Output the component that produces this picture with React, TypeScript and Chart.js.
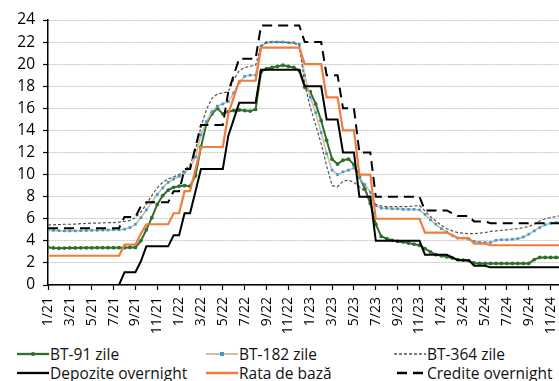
import React, { useEffect, useRef } from 'react';
import { Chart, registerables } from 'chart.js';

Chart.register(...registerables);

// Semi-monthly observations, Jan 2021 .. Dec 2024 (two per month)
const tickLabels = [
  '1/21', '3/21', '5/21', '7/21', '9/21', '11/21',
  '1/22', '3/22', '5/22', '7/22', '9/22', '11/22',
  '1/23', '3/23', '5/23', '7/23', '9/23', '11/23',
  '1/24', '3/24', '5/24', '7/24', '9/24', '11/24',
];

const bt91 = [
  3.42, 3.36, 3.33, 3.34, 3.36, 3.36, 3.37, 3.37, 3.37, 3.38, 3.38, 3.38,
  3.38, 3.38, 3.38, 3.4, 3.4, 4.0, 5.0, 6.1, 7.3, 8.1, 8.6, 8.85,
  8.95, 9.0, 8.95, 9.9, 12.5, 14.6, 15.5, 16.0, 15.5, 15.7, 15.8, 15.85,
  15.8, 15.75, 15.9, 19.3, 19.6, 19.7, 19.8, 19.9, 19.8, 19.7, 19.4, 17.9,
  17.5, 16.4, 14.9, 13.1, 11.4, 10.95, 11.3, 11.4, 10.9, 9.8, 8.7, 7.4,
  5.5, 4.4, 4.2, 4.05, 3.95, 3.9, 3.8, 3.7, 3.6, 3.3, 3.0, 2.75,
  2.65, 2.55, 2.45, 2.3, 2.25, 2.2, 2.0, 1.95, 1.95, 1.95, 1.95, 1.95,
  1.95, 1.95, 1.95, 1.95, 1.95, 2.3, 2.5, 2.5, 2.5, 2.5, 2.5, 2.5,
];

const bt182 = [
  4.95, 4.95, 4.92, 4.9, 4.9, 4.9, 4.92, 4.93, 4.95, 4.95, 4.97, 4.98,
  5.0, 5.0, 5.05, 5.2, 5.5, 6.1, 6.8, 7.5, 8.2, 8.8, 9.3, 9.6,
  9.85, 10.2, 10.6, 11.6, 13.6, 14.8, 15.7, 16.2, 16.4, 16.6, 17.4, 18.3,
  18.9, 19.0, 19.0, 21.6, 21.95, 22.0, 22.0, 22.0, 21.95, 21.95, 21.8, 19.0,
  17.0, 15.6, 13.8, 11.9, 10.4, 10.0, 10.25, 10.4, 10.6, 9.7, 9.1, 8.4,
  7.2, 6.95, 6.95, 6.9, 6.9, 6.85, 6.85, 6.85, 6.8, 6.4, 5.9, 5.5,
  5.1, 4.8, 4.5, 4.25, 4.25, 4.15, 3.95, 3.87, 3.85, 3.85, 4.05, 4.1,
  4.1, 4.15, 4.2, 4.35, 4.6, 4.9, 5.2, 5.45, 5.6, 5.65, 5.65, 5.7,
];

const bt364 = [
  5.45, 5.45, 5.47, 5.5, 5.5, 5.52, 5.55, 5.57, 5.6, 5.6, 5.62, 5.65,
  5.65, 5.7, 5.75, 5.85, 6.1, 6.6, 7.3, 8.1, 8.8, 9.3, 9.6, 9.8,
  10.0, 10.4, 10.9, 12.2, 14.3, 15.9, 16.9, 17.3, 17.4, 17.5, 18.6, 19.4,
  19.7, 19.8, 19.9, 21.7, 22.0, 22.0, 22.0, 22.0, 21.95, 21.9, 21.7, 18.2,
  16.1, 14.5, 12.8, 10.8, 9.0, 8.9, 9.4, 9.5, 9.3, 8.9, 8.5, 8.0,
  7.3, 7.15, 7.1, 7.1, 7.1, 7.1, 7.1, 7.15, 7.2, 6.7, 6.2, 5.8,
  5.4, 5.1, 4.9, 4.75, 4.7, 4.65, 4.65, 4.7, 4.75, 4.85, 4.9, 4.95,
  5.0, 5.05, 5.1, 5.2, 5.3, 5.5, 5.8, 6.0, 6.1, 6.2, 6.3, 6.35,
];

const depoziteOvernight = [
  0, 0, 0, 0, 0, 0, 0, 0, 0, 0, 0, 0,
  0, 0, 1.15, 1.15, 1.15, 2.15, 3.5, 3.5, 3.5, 3.5, 3.5, 4.5,
  4.5, 6.5, 6.5, 8.5, 10.5, 10.5, 10.5, 10.5, 10.5, 13.5, 15, 16.5,
  16.5, 16.5, 16.5, 19.5, 19.5, 19.5, 19.5, 19.5, 19.5, 19.5, 19.5, 18,
  18, 18, 18, 15, 15, 15, 12, 12, 12, 8, 8, 8,
  4, 4, 4, 4, 4, 4, 4, 4, 4, 2.75, 2.75, 2.75,
  2.75, 2.75, 2.5, 2.25, 2.25, 2.25, 1.75, 1.75, 1.75, 1.6, 1.6, 1.6,
  1.6, 1.6, 1.6, 1.6, 1.6, 1.6, 1.6, 1.6, 1.6, 1.6, 1.6, 1.6,
];

const rataDeBaza = [
  2.65, 2.65, 2.65, 2.65, 2.65, 2.65, 2.65, 2.65, 2.65, 2.65, 2.65, 2.65,
  2.65, 2.65, 3.65, 3.65, 3.65, 4.65, 5.5, 5.5, 5.5, 5.5, 5.5, 6.5,
  6.5, 8.5, 8.5, 10.5, 12.5, 12.5, 12.5, 12.5, 12.5, 15.5, 17, 18.5,
  18.5, 18.5, 18.5, 21.5, 21.5, 21.5, 21.5, 21.5, 21.5, 21.5, 21.5, 20,
  20, 20, 20, 17, 17, 17, 14, 14, 14, 10, 10, 10,
  6, 6, 6, 6, 6, 6, 6, 6, 6, 4.75, 4.75, 4.75,
  4.75, 4.75, 4.5, 4.25, 4.25, 4.25, 3.75, 3.75, 3.75, 3.6, 3.6, 3.6,
  3.6, 3.6, 3.6, 3.6, 3.6, 3.6, 3.6, 3.6, 3.6, 3.6, 3.6, 3.6,
];

const crediteOvernight = [
  5.15, 5.15, 5.15, 5.15, 5.15, 5.15, 5.15, 5.15, 5.15, 5.15, 5.15, 5.15,
  5.15, 5.15, 6.15, 6.15, 6.15, 7.15, 7.5, 7.5, 7.5, 7.5, 7.5, 8.5,
  8.5, 10.5, 10.5, 12.5, 14.5, 14.5, 14.5, 14.5, 14.5, 17.5, 19, 20.5,
  20.5, 20.5, 20.5, 23.5, 23.5, 23.5, 23.5, 23.5, 23.5, 23.5, 23.5, 22,
  22, 22, 22, 19, 19, 19, 16, 16, 16, 12, 12, 12,
  8, 8, 8, 8, 8, 8, 8, 8, 8, 6.75, 6.75, 6.75,
  6.75, 6.75, 6.5, 6.25, 6.25, 6.25, 5.75, 5.75, 5.75, 5.6, 5.6, 5.6,
  5.6, 5.6, 5.6, 5.6, 5.6, 5.6, 5.6, 5.6, 5.6, 5.6, 5.6, 5.6,
];

const FONT = "'Open Sans', 'Noto Sans', sans-serif";

type Series = {
  label: string;
  data: number[];
  color: string;
  width: number;
  dash: number[];
  pointStyle?: string;
  pointColor?: string;
  pointRadius?: number;
};

const SERIES: Series[] = [
  { label: 'BT-91 zile', data: bt91, color: '#2f6e2f', width: 2, dash: [], pointStyle: 'circle', pointColor: '#2f6e2f', pointRadius: 1.9 },
  { label: 'BT-182 zile', data: bt182, color: '#cdbaa2', width: 1.6, dash: [], pointStyle: 'rect', pointColor: '#3a9ad6', pointRadius: 1.9 },
  { label: 'BT-364 zile', data: bt364, color: '#5b534b', width: 1.2, dash: [3, 2] },
  { label: 'Depozite overnight', data: depoziteOvernight, color: '#000000', width: 2, dash: [] },
  { label: 'Rata de bază', data: rataDeBaza, color: '#ef7d3b', width: 2.2, dash: [] },
  { label: 'Credite overnight', data: crediteOvernight, color: '#000000', width: 2, dash: [10, 6] },
];

const CANVAS_W = 575;
const CANVAS_H = 340;

function LegendSample({ s }: { s: Series }) {
  return (
    <svg width={32} height={10} style={{ display: 'block', flex: '0 0 auto' }}>
      <line x1={0} y1={5} x2={32} y2={5} stroke={s.color} strokeWidth={s.width + 0.3}
        strokeDasharray={s.dash.length ? s.dash.join(' ') : undefined}
        strokeDashoffset={s.dash.length ? (s.dash[0] > 5 ? -3 : 0) : 0} />
      {s.pointStyle === 'circle' && <circle cx={16} cy={5} r={2} fill={s.pointColor} />}
      {s.pointStyle === 'rect' && <rect x={14} y={3} width={4} height={4} fill={s.pointColor} />}
    </svg>
  );
}

export default function App() {
  const ref = useRef<HTMLCanvasElement | null>(null);

  useEffect(() => {
    if (!ref.current) return;
    const n = bt91.length;
    const chart = new Chart(ref.current, {
      type: 'line',
      data: {
        datasets: SERIES.map((s, i) => ({
          label: s.label,
          data: s.data.map((v, k) => ({ x: k / 2, y: v })),
          borderColor: s.color,
          backgroundColor: s.pointColor || s.color,
          borderWidth: s.width,
          borderDash: s.dash,
          pointStyle: (s.pointStyle || 'circle') as any,
          pointRadius: s.pointRadius || 0,
          pointBorderWidth: 0,
          pointBackgroundColor: s.pointColor || s.color,
          pointBorderColor: s.pointColor || s.color,
          tension: 0,
          fill: false,
          order: SERIES.length - 1 - i,
        })),
      },
      options: {
        responsive: false,
        animation: false,
        devicePixelRatio: 1,
        layout: { padding: { top: 20, right: 8, left: 0, bottom: 0 } },
        plugins: { legend: { display: false }, tooltip: { enabled: false } },
        scales: {
          x: {
            type: 'linear',
            min: 0,
            max: (n - 1) / 2,
            afterBuildTicks: (scale: any) => {
              scale.ticks = tickLabels.map((_, j) => ({ value: j * 2 }));
            },
            afterFit: (scale: any) => { scale.height = 55; },
            ticks: {
              autoSkip: false,
              minRotation: 90,
              maxRotation: 90,
              padding: 7,
              color: '#000',
              font: { family: FONT, size: 14 },
              callback: (v: any) => tickLabels[Math.round(Number(v) / 2)] ?? '',
            },
            grid: { drawOnChartArea: false, drawTicks: true, tickLength: 5, tickColor: '#000', tickWidth: 1.2 },
            border: { color: '#000', width: 1.5 },
          },
          y: {
            type: 'linear',
            min: 0,
            max: 24,
            afterFit: (scale: any) => { scale.width = 48; },
            ticks: {
              stepSize: 2,
              padding: 8,
              color: '#000',
              font: { family: FONT, size: 15.5 },
            },
            grid: { color: '#c4c4c4', lineWidth: 1, tickLength: 5, tickColor: '#000', tickWidth: 1.2 },
            border: { color: '#000', width: 1.5, dash: [2, 1] },
          },
        },
      },
    });
    return () => chart.destroy();
  }, []);

  const cols = [17, 206, 394];
  const rows = [344, 363];

  return (
    <div style={{ position: 'fixed', left: 0, top: 0, width: 559, height: 381, overflow: 'hidden', background: '#fff' }}>
      <canvas ref={ref} width={CANVAS_W} height={CANVAS_H}
        style={{ position: 'absolute', left: 0, top: 0, width: CANVAS_W, height: CANVAS_H }} />
      {SERIES.map((s, i) => (
        <div key={s.label} style={{
          position: 'absolute', left: cols[i % 3], top: rows[Math.floor(i / 3)], height: 20,
          display: 'flex', alignItems: 'center', whiteSpace: 'nowrap',
          fontFamily: FONT, fontSize: 15.5, color: '#111', lineHeight: '20px',
        }}>
          <LegendSample s={s} />
          <span style={{ marginLeft: 1 }}>{s.label}</span>
        </div>
      ))}
    </div>
  );
}
